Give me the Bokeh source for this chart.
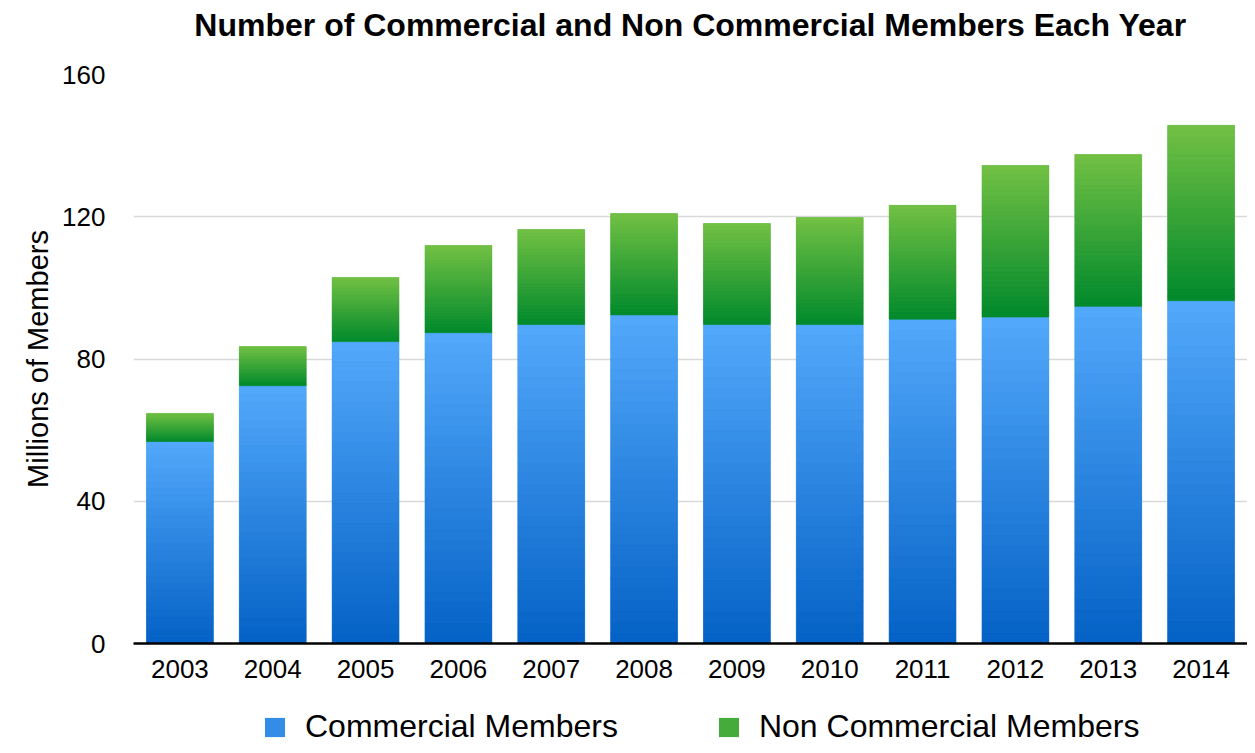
from bokeh.plotting import figure
from bokeh.models import Range1d, FixedTicker, Legend, LegendItem, ColumnDataSource
from bokeh.layouts import column
from bokeh.core.properties import value
from bokeh.embed import file_html
from bokeh.resources import INLINE

years = ["2003", "2004", "2005", "2006", "2007", "2008", "2009", "2010", "2011", "2012", "2013", "2014"]
commercial = [56.8, 72.5, 84.9, 87.4, 89.7, 92.4, 89.7, 89.7, 91.2, 91.8, 94.8, 96.4]
non_commercial = [7.9, 11.0, 18.0, 24.5, 26.7, 28.5, 28.4, 30.1, 32.0, 42.6, 42.7, 49.3]
y_ticks = [0, 40, 80, 120, 160]

title_text = "Number of Commercial and Non Commercial Members Each Year"
y_label = "Millions of Members"
series_names = ["Commercial Members", "Non Commercial Members"]

# gradient colours (top, bottom) for each series
blue_top, blue_bot = (0x53, 0xA9, 0xFB), (0x04, 0x61, 0xC5)
green_top, green_bot = (0x73, 0xC1, 0x44), (0x00, 0x89, 0x2C)

FONT = "Liberation Sans"

def hexcol(c):
    return "#%02x%02x%02x" % c

def mix(a, b, t):
    return tuple(int(round(a[i] + (b[i] - a[i]) * t)) for i in range(3))

def strip(h):
    f = figure(width=1247, height=h, x_range=Range1d(0, 1), y_range=Range1d(0, 1),
               output_backend="svg", toolbar_location=None,
               min_border_left=0, min_border_right=0, min_border_top=0, min_border_bottom=0)
    f.axis.visible = False
    f.grid.grid_line_color = None
    f.outline_line_color = None
    return f

# title strip
tf = strip(60)
tf.text(x=[0.5], y=[0.6], text=[title_text], text_font=value(FONT),
        text_font_size="32px", text_font_style="bold", text_color="black",
        text_align="center", text_baseline="middle")

p = figure(x_range=years, y_range=Range1d(0, 160),
           width=1247, height=640,
           output_backend="svg", toolbar_location=None,
           min_border_left=133, min_border_right=0, min_border_top=14, min_border_bottom=57)

bar_w = 0.72
tops_c = commercial
bottoms_n = commercial
tops_n = [c + n for c, n in zip(commercial, non_commercial)]

# solid base bars
p.vbar(x=years, bottom=0, top=tops_c, width=bar_w,
       fill_color=hexcol(mix(blue_top, blue_bot, 0.4)), line_color=None)
p.vbar(x=years, bottom=bottoms_n, top=tops_n, width=bar_w,
       fill_color=hexcol(mix(green_top, green_bot, 0.4)), line_color=None)

# gradient slices computed from data
N = 30
xs, bs, ts, cs = [], [], [], []
for i, yr in enumerate(years):
    for (lo, hi, ctop, cbot) in [(0, tops_c[i], blue_top, blue_bot),
                                  (bottoms_n[i], tops_n[i], green_top, green_bot)]:
        h = hi - lo
        for k in range(N):
            b = lo + h * k / N
            t = lo + h * (k + 1) / N
            frac = 1 - (k + 0.5) / N  # 0 at top, 1 at bottom
            xs.append(yr)
            bs.append(b)
            ts.append(t)
            cs.append(hexcol(mix(ctop, cbot, frac)))
src = ColumnDataSource(dict(x=xs, bottom=bs, top=ts, color=cs))
p.vbar(x="x", bottom="bottom", top="top", width=bar_w, source=src,
       fill_color="color", line_color="color", line_width=0.6)

# axes
p.xaxis.axis_line_color = "black"
p.xaxis.axis_line_width = 2.5
p.xaxis.major_tick_line_color = None
p.xaxis.minor_tick_line_color = None
p.xaxis.major_label_text_font = FONT
p.xaxis.major_label_text_font_size = "26px"
p.xaxis.major_label_text_color = "black"
p.xaxis.major_label_standoff = 10

p.yaxis.ticker = FixedTicker(ticks=y_ticks)
p.yaxis.axis_line_color = None
p.yaxis.major_tick_line_color = None
p.yaxis.minor_tick_line_color = None
p.yaxis.major_label_text_font = FONT
p.yaxis.major_label_text_font_size = "26px"
p.yaxis.major_label_text_color = "black"
p.yaxis.major_label_standoff = 22
p.yaxis.axis_label = y_label
p.yaxis.axis_label_text_font = FONT
p.yaxis.axis_label_text_font_size = "29px"
p.yaxis.axis_label_text_font_style = "normal"
p.yaxis.axis_label_text_color = "black"
p.yaxis.axis_label_standoff = 5

p.xgrid.grid_line_color = None
p.ygrid.grid_line_color = "#d9d9d9"
p.ygrid.grid_line_width = 1.5
p.outline_line_color = None

# legend strip below the chart
lg = strip(45)
r_c = lg.vbar(x=[10], top=[1], width=0.1,
              fill_color=hexcol(mix(blue_top, blue_bot, 0.4)), line_color=None)
r_n = lg.vbar(x=[10], top=[1], width=0.1,
              fill_color=hexcol(mix(green_top, green_bot, 0.4)), line_color=None)
legend = Legend(items=[LegendItem(label=series_names[0], renderers=[r_c]),
                       LegendItem(label=series_names[1], renderers=[r_n])],
                orientation="horizontal", location=(129, 0),
                label_text_font=FONT, label_text_font_size="32px",
                label_text_color="black", label_height=24,
                glyph_width=25, glyph_height=24, label_standoff=18, spacing=98,
                border_line_color=None, background_fill_alpha=0,
                margin=0, padding=0)
lg.add_layout(legend, "center")

layout = column(tf, p, lg, spacing=0)
open("out.html", "w").write(file_html(layout, INLINE))
